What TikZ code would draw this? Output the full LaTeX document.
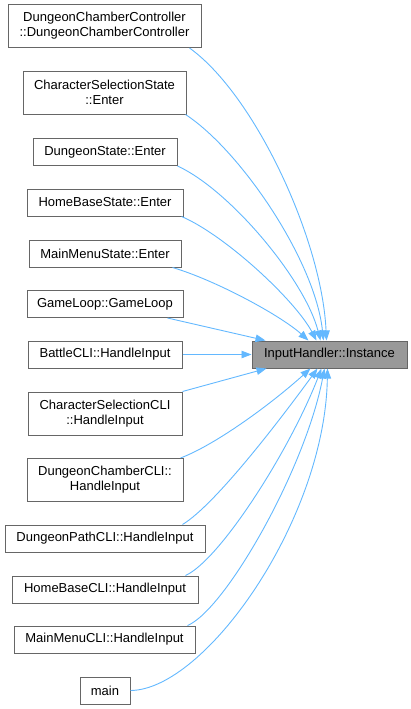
\documentclass[tikz,border=0pt]{standalone}
\usepackage{fontspec}
\setmainfont{Liberation Sans}
\usetikzlibrary{arrows.meta}
\definecolor{edgeblue}{HTML}{63B8FF}
\definecolor{boxgray}{HTML}{666666}
\definecolor{rootfill}{HTML}{999999}
\begin{document}
\begin{tikzpicture}[x=1pt,y=-1pt,
  box/.style={draw=boxgray, line width=1pt, fill=white, inner sep=0pt, align=center,
    font=\fontsize{13}{15}\selectfont, text=black},
  one/.style={box, minimum height=27pt},
  two/.style={box, minimum height=43pt},
  root/.style={box, fill=rootfill, minimum height=27pt},
  edge/.style={draw=edgeblue, line width=0.9pt, -{Triangle[length=10pt,width=7.5pt]}, edgeblue}]
\useasboundingbox (0,0) rectangle (411,709);
% callers
\node[two, minimum width=193pt] (dcc) at (104.5,26) {DungeonChamberController\\::DungeonChamberController};
\node[two, minimum width=163pt] (css) at (104.5,92.5) {CharacterSelectionState\\::Enter};
\node[one, minimum width=144pt] (ds) at (105,152) {DungeonState::Enter};
\node[one, minimum width=156pt] (hbs) at (105,202.5) {HomeBaseState::Enter};
\node[one, minimum width=152pt] (mms) at (105,253.5) {MainMenuState::Enter};
\node[one, minimum width=156pt] (gl) at (105,304) {GameLoop::GameLoop};
\node[one, minimum width=154pt] (bcli) at (105,354.5) {BattleCLI::HandleInput};
\node[two, minimum width=154pt] (cscli) at (105,413.5) {CharacterSelectionCLI\\::HandleInput};
\node[two, minimum width=156pt] (dccli) at (105,480) {DungeonChamberCLI::\\HandleInput};
\node[one, minimum width=200pt] (dpcli) at (105,538.5) {DungeonPathCLI::HandleInput};
\node[one, minimum width=186pt] (hbcli) at (105,589.5) {HomeBaseCLI::HandleInput};
\node[one, minimum width=181pt] (mmcli) at (104.5,639.5) {MainMenuCLI::HandleInput};
\node[one, minimum width=50pt] (main) at (105,690.5) {main};
% callee
\node[root, minimum width=155pt] (ih) at (329.5,354.5) {InputHandler::Instance};
% edges above
\draw[edge] ([xshift=-12pt]dcc.south east) .. controls (255,95) and (322,240) .. ([xshift=75pt]ih.north west);
\draw[edge] ([xshift=-1pt]css.south east) .. controls (240,150) and (315,260) .. ([xshift=72pt]ih.north west);
\draw[edge] (ds.south east) .. controls (230,190) and (305,280) .. ([xshift=69pt]ih.north west);
\draw[edge] ([xshift=-2pt]hbs.south east) .. controls (225,235) and (295,300) .. ([xshift=65pt]ih.north west);
\draw[edge] ([xshift=-9pt]mms.south east) .. controls (215,280) and (280,315) .. ([xshift=57pt]ih.north west);
\draw[edge] ([xshift=-16pt]gl.south east) -- ([xshift=14pt]ih.north west);
% straight
\draw[edge] (bcli.east) -- (ih.west);
% edges below
\draw[edge] (cscli.north east) -- ([xshift=15pt]ih.south west);
\draw[edge] ([xshift=-3pt]dccli.north east) .. controls (215,445) and (270,405) .. ([xshift=59pt]ih.south west);
\draw[edge] ([xshift=-23pt]dpcli.north east) .. controls (215,505) and (280,420) .. ([xshift=66pt]ih.south west);
\draw[edge] ([xshift=-13pt]hbcli.north east) .. controls (220,560) and (290,450) .. ([xshift=70pt]ih.south west);
\draw[edge] ([xshift=-8pt]mmcli.north east) .. controls (225,610) and (305,470) .. ([xshift=73pt]ih.south west);
\draw[edge] (main.east) .. controls (205,690) and (325,520) .. ([xshift=76pt]ih.south west);
\end{tikzpicture}
\end{document}
